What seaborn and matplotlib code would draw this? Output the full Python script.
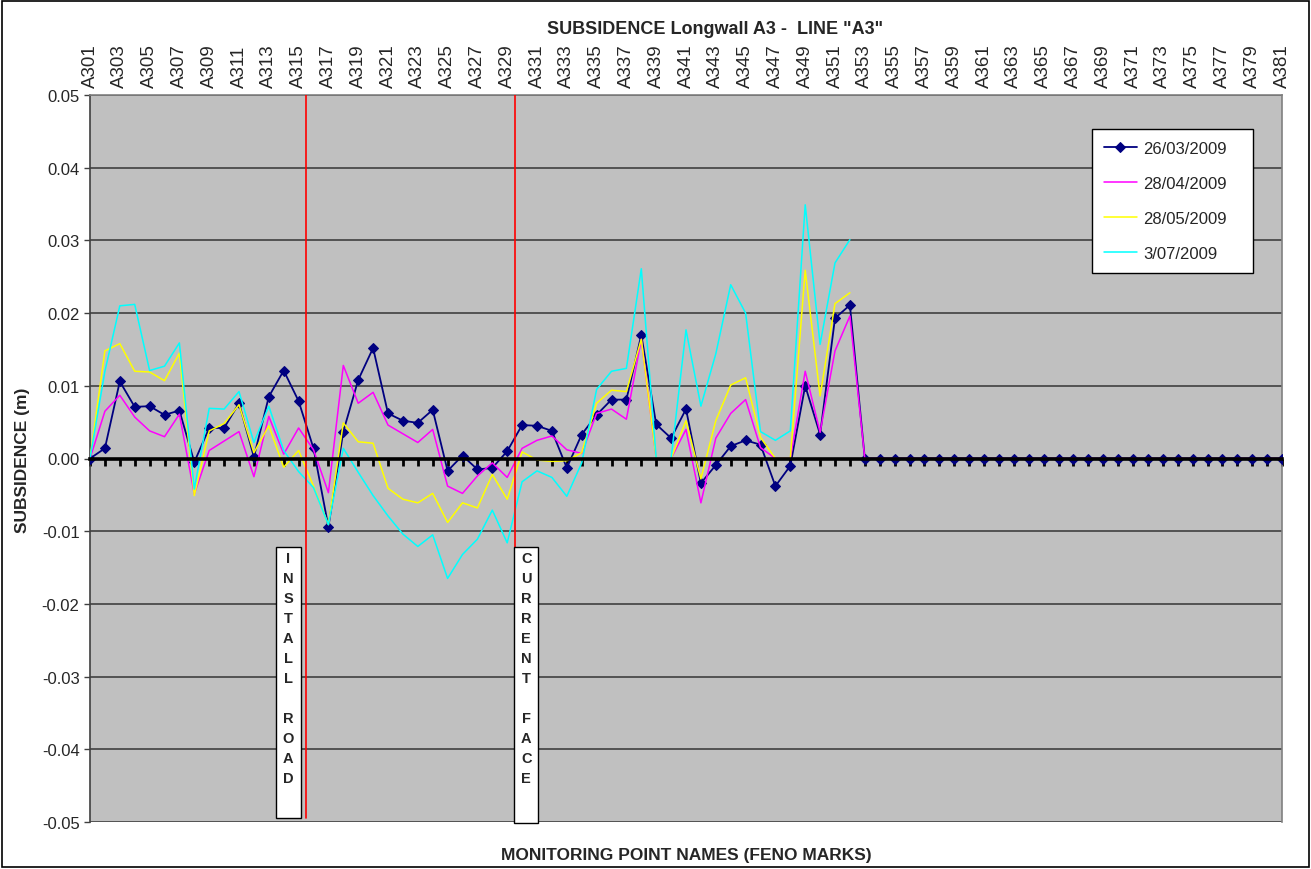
import numpy as np
import pandas as pd
import matplotlib
matplotlib.use("Agg")
import matplotlib.pyplot as plt
from matplotlib.patches import Rectangle
import seaborn as sns

# Monitoring points A301 .. A381
points = [f"A{n}" for n in range(301, 382)]

# Subsidence readings (m)
s_26_03 = [0, 0.0014, 0.0106, 0.0071, 0.0072, 0.0060, 0.0066, -0.0005, 0.0042, 0.0042,
           0.0076, 0.0002, 0.0085, 0.0121, 0.0079, 0.0014, -0.0094, 0.0037, 0.0108, 0.0152,
           0.0062, 0.0052, 0.0049, 0.0067, -0.0017, 0.0004, -0.0015, -0.0013, 0.0010, 0.0046,
           0.0045, 0.0038, -0.0013, 0.0033, 0.0060, 0.0081, 0.0081, 0.0170, 0.0047, 0.0028,
           0.0068, -0.0034, -0.0009, 0.0017, 0.0025, 0.0019, -0.0038, -0.0010, 0.0100, 0.0033,
           0.0193, 0.0211] + [0] * 29
s_28_04 = [0, 0.0065, 0.0087, 0.0057, 0.0038, 0.0030, 0.0061, -0.0049, 0.0011, 0.0024,
           0.0037, -0.0025, 0.0058, 0.0006, 0.0042, 0.0012, -0.0047, 0.0128, 0.0076, 0.0091,
           0.0046, 0.0034, 0.0022, 0.0040, -0.0038, -0.0048, -0.0024, -0.0006, -0.0026, 0.0014,
           0.0025, 0.0031, 0.0012, 0.0007, 0.0062, 0.0068, 0.0054, 0.0164, 0.0, 0.0,
           0.0040, -0.0061, 0.0028, 0.0062, 0.0081, 0.0015, 0.0, 0.0, 0.0120, 0.0036,
           0.0148, 0.0196] + [0] * 29
s_28_05 = [0, 0.0148, 0.0158, 0.0120, 0.0119, 0.0107, 0.0145, -0.0051, 0.0038, 0.0048,
           0.0074, 0.0008, 0.0045, -0.0012, 0.0011, -0.0038, -0.0091, 0.0049, 0.0023, 0.0021,
           -0.0041, -0.0056, -0.0061, -0.0048, -0.0088, -0.0061, -0.0068, -0.0022, -0.0056, 0.0009,
           -0.0002, -0.0004, -0.0003, 0.0008, 0.0076, 0.0094, 0.0092, 0.0164, 0.0, 0.0,
           0.0052, -0.0028, 0.0052, 0.0101, 0.0111, 0.0029, 0.0, 0.0, 0.0259, 0.0086,
           0.0213, 0.0228] + [np.nan] * 29
s_03_07 = [0, 0.0120, 0.0210, 0.0212, 0.0121, 0.0127, 0.0159, -0.0042, 0.0069, 0.0068,
           0.0092, 0.0022, 0.0072, 0.0011, -0.0018, -0.0040, -0.0091, 0.0014, -0.0019, -0.0051,
           -0.0079, -0.0104, -0.0121, -0.0105, -0.0165, -0.0132, -0.0111, -0.0071, -0.0116, -0.0032,
           -0.0017, -0.0026, -0.0052, -0.0006, 0.0095, 0.0120, 0.0124, 0.0261, 0.0, 0.0,
           0.0177, 0.0072, 0.0144, 0.0239, 0.0200, 0.0037, 0.0025, 0.0038, 0.0349, 0.0157,
           0.0269, 0.0301] + [np.nan] * 29

dates = ["26/03/2009", "28/04/2009", "28/05/2009", "3/07/2009"]
colors = ["#000080", "#FF00FF", "#FFFF00", "#00FFFF"]

sns.set_theme(style="white")
plt.rcParams["font.family"] = ["Liberation Sans", "DejaVu Sans"]

fig = plt.figure(figsize=(13.11, 8.70), dpi=100)
ax = fig.add_axes([90 / 1311, 47 / 870, 1192 / 1311, 727 / 870])
ax.set_facecolor("#C0C0C0")

x = np.arange(len(points))
for i, (date, vals) in enumerate(zip(dates, [s_26_03, s_28_04, s_28_05, s_03_07])):
    df = pd.DataFrame({"pos": x, "value": vals}).dropna()
    if i == 0:
        sns.lineplot(data=df, x="pos", y="value", ax=ax, color=colors[i], lw=1.3,
                     marker="D", markersize=5, markeredgecolor=colors[i], label=date,
                     zorder=3)
    else:
        sns.lineplot(data=df, x="pos", y="value", ax=ax, color=colors[i], lw=1.1,
                     label=date, zorder=3 + i * 0.1)

# Reference lines
ax.axvline(14.5, ymin=0.005, ymax=1.0, color="red", lw=1.2, zorder=4)
ax.axvline(28.5, color="red", lw=1.2, zorder=4)

ax.set_xlim(0, len(points) - 1)
ax.set_ylim(-0.05, 0.05)
ax.set_yticks(np.arange(-0.05, 0.0501, 0.01))
ax.set_yticklabels([f"{v:.2f}" for v in np.arange(-0.05, 0.0501, 0.01)], fontsize=12)
ax.yaxis.grid(True, color="#4a4a4a", lw=1.3)
ax.set_axisbelow(True)

ax.set_xticks(x)
ax.set_xticklabels([p if k % 2 == 0 else "" for k, p in enumerate(points)])
ax.tick_params(axis="x", which="major", bottom=True, top=False, labelbottom=False,
               labeltop=True, direction="out", length=5, width=2, color="black",
               labelrotation=90, labelsize=13.5, pad=0.5)
ax.tick_params(axis="y", left=True, direction="out", length=4, width=1, color="#404040")
ax.set_xlabel("")
ax.set_ylabel("")

ax.spines["bottom"].set_position(("data", 0))
ax.spines["bottom"].set_linewidth(2.6)
ax.spines["bottom"].set_color("black")
ax.spines["bottom"].set_zorder(5)
ax.spines["left"].set_color("#404040")
ax.spines["left"].set_linewidth(1.2)
for side in ["top", "right"]:
    ax.spines[side].set_color("#808080")
    ax.spines[side].set_linewidth(1.2)

# Label boxes for install road and current face
for x0, x1, y_top, y_bot, txt in [(12.46, 14.14, -0.0122, -0.0495, "I\nN\nS\nT\nA\nL\nL\n\nR\nO\nA\nD"),
                                   (28.48, 30.09, -0.0122, -0.0502, "C\nU\nR\nR\nE\nN\nT\n\nF\nA\nC\nE")]:
    ax.add_patch(Rectangle((x0, y_bot), x1 - x0, y_top - y_bot, facecolor="white",
                           edgecolor="black", lw=1, zorder=6, clip_on=False))
    ax.text((x0 + x1) / 2, y_top - 0.0005, txt, ha="center", va="top", fontsize=10.5,
            fontweight="bold", linespacing=1.55, zorder=7)

leg = ax.legend(loc="upper left", bbox_to_anchor=(0.8406, 0.7565, 0.1351, 0.1965),
                mode="expand", fontsize=12, frameon=True, fancybox=False, framealpha=1,
                edgecolor="black", labelspacing=1.2, handlelength=2.0, handletextpad=0.35,
                borderpad=0.7, borderaxespad=0)
leg.get_frame().set_linewidth(1.0)
leg.set_zorder(8)

fig.text(715 / 1311, 1 - 29 / 870, 'SUBSIDENCE Longwall A3 -  LINE "A3"', ha="center",
         va="center", fontsize=13, fontweight="bold")
fig.text(22 / 1311, 1 - 460 / 870, "SUBSIDENCE (m)", ha="center", va="center",
         rotation=90, fontsize=12.5, fontweight="bold")
fig.text(686 / 1311, 1 - 856 / 870, "MONITORING POINT NAMES (FENO MARKS)", ha="center",
         va="center", fontsize=12.5, fontweight="bold")

fig.add_artist(Rectangle((0.0015, 0.002), 0.997, 0.996, transform=fig.transFigure,
                         fill=False, edgecolor="black", lw=1.2))

fig.savefig("out.png", dpi=100)
